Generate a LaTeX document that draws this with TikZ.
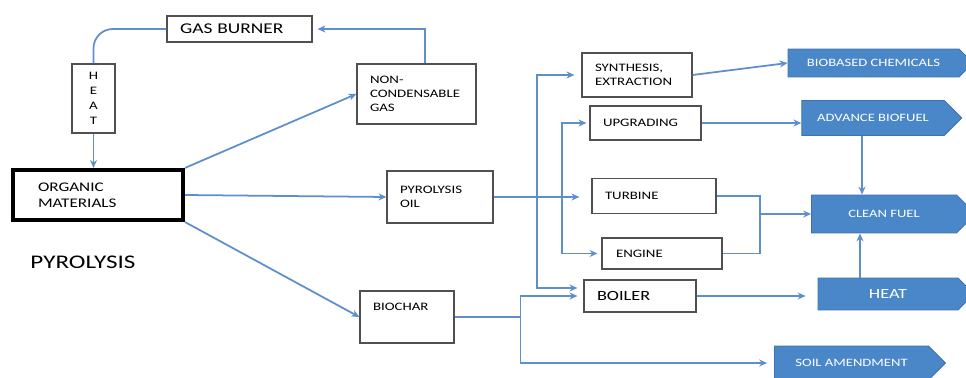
\documentclass[tikz,border=0pt]{standalone}
\usepackage{fontspec}
\setmainfont[FakeStretch=1.3]{Carlito}
\usepackage{xcolor}
\usetikzlibrary{shapes.symbols,arrows.meta,calc}
\definecolor{flow}{RGB}{94,143,204}
\definecolor{outbox}{RGB}{74,135,201}
\definecolor{edge}{RGB}{80,80,80}
\tikzset{
	>={Stealth[length=4.5pt,width=4pt]},
	line/.style={draw=flow, line width=1pt},
	arrow/.style={line, ->},
	box/.style={
		rectangle, draw=edge, line width=0.7pt,
		align=left, inner xsep=0.26cm, inner ysep=0pt,
		font=\fontsize{6.5}{8}\selectfont
	},
	product/.style={
		signal, signal to=east, fill=outbox, draw=outbox!85!black, line width=0.5pt,
		text=white, inner sep=0pt, font=\fontsize{6.4}{7.5}\selectfont
	}
}

\begin{document}
\begin{tikzpicture}[x=0.02cm, y=-0.02cm]
	\useasboundingbox (0,0) rectangle (966,378);

	%Nodes
	\node[box, text width=2.38cm, minimum height=0.52cm, font=\fontsize{8.5}{10}\selectfont] (burner) at (239.5,29) {GAS BURNER};
	\node[box, align=center, inner xsep=0pt, minimum width=0.86cm, minimum height=1.38cm, font=\fontsize{6.5}{8.5}\selectfont] (heatv) at (93.5,98.5) {H\\E\\A\\T};
	\node[box, text width=1.86cm, minimum height=1.2cm] (ncg) at (416.5,94) {NON-\\CONDENSABLE\\GAS};
	\node[box, draw=black, line width=2.4pt, inner xsep=0.5cm, text width=2.4cm, minimum height=1.0cm, font=\fontsize{7.5}{9}\selectfont] (organic) at (98,195) {ORGANIC\\MATERIALS};
	\node[font=\fontsize{11}{13}\selectfont, inner sep=0pt] (title) at (83,262) {PYROLYSIS};
	\node[box, text width=1.6cm, minimum height=1.04cm] (oil) at (440,197) {PYROLYSIS\\OIL};
	\node[box, text width=1.36cm, text height=0.38cm, text depth=0.66cm] (biochar) at (407,317) {BIOCHAR};
	\node[box, text width=1.68cm, minimum height=0.88cm] (synth) at (637,75) {SYNTHESIS,\\EXTRACTION};
	\node[box, text width=1.7cm, minimum height=0.68cm] (upgr) at (645.5,123) {UPGRADING};
	\node[box, text width=1.96cm, minimum height=0.7cm] (turb) at (654,196) {TURBINE};
	\node[box, inner xsep=0.28cm, text width=1.84cm, minimum height=0.62cm] (engine) at (662,253.5) {ENGINE};
	\node[box, text width=1.72cm, minimum height=0.64cm, font=\fontsize{8}{9}\selectfont] (boiler) at (640,296) {BOILER};

	\node[product, minimum width=3.7cm, minimum height=0.56cm] (chem) at (873.5,63) {BIOBASED CHEMICALS};
	\node[product, minimum width=3.2cm, minimum height=0.7cm] (biofuel) at (873,118) {ADVANCE BIOFUEL};
	\node[product, minimum width=3.28cm, minimum height=0.76cm] (clean) at (884,214) {CLEAN FUEL};
	\node[product, minimum width=3.12cm, minimum height=0.64cm, font=\fontsize{8}{9}\selectfont] (heatb) at (888,294) {HEAT};
	\node[product, minimum width=3.42cm, minimum height=0.68cm] (soil) at (851.5,363) {SOIL AMENDMENT};

	%Lines
	\draw[line, rounded corners=11pt] (burner.west) -| (heatv.north);
	\draw[arrow] (heatv.south) -- (heatv.south |- organic.north);
	\draw[arrow] ([xshift=0.17cm]ncg.north) |- ([xshift=0.1cm]burner.east);
	\draw[arrow] (organic.north east) -- (ncg.west);
	\draw[arrow] (organic.east) -- (oil.west);
	\draw[arrow] (organic.south east) -- (biochar.west);

	\draw[arrow, shorten >=0.24cm] (oil.east) -- (oil.east -| turb.west);
	\coordinate (split1) at (537,196);
	\coordinate (split2) at (562,196);
	\draw[arrow, shorten >=0.14cm] (split1) |- (synth.west);
	\draw[arrow, shorten >=0.12cm] (split1) |- ([yshift=0.16cm]boiler.west);
	\draw[arrow, shorten >=0.06cm] (split2) |- (upgr.west);
	\draw[arrow, shorten >=0.08cm] (split2) |- (engine.west);

	\draw[line] (biochar.east) -- ++(66,0) coordinate (split3);
	\draw[arrow, shorten >=0.12cm] (split3) |- (boiler.west);
	\draw[arrow, shorten >=0.14cm] (split3) |- (soil.west);

	\draw[arrow] (synth.east) -- (chem.west);
	\draw[arrow] (upgr.east) -- (upgr.east -| biofuel.west);
	\draw[arrow] ($(biofuel.south)+(-11,0)$) -- ($(biofuel.south |- clean.north)+(-11,0)$);
	\coordinate (join) at (760,214);
	\draw[line] (turb.east) -| (join);
	\draw[line] (engine.east) -| (join);
	\draw[arrow] (join) -- (clean.west);
	\draw[arrow, shorten >=0.24cm] (boiler.east) -- (boiler.east -| heatb.west);
	\draw[arrow] ($(heatb.north)+(-28,0)$) -- ($(heatb.north |- clean.south)+(-28,0)$);
\end{tikzpicture}
\end{document}
